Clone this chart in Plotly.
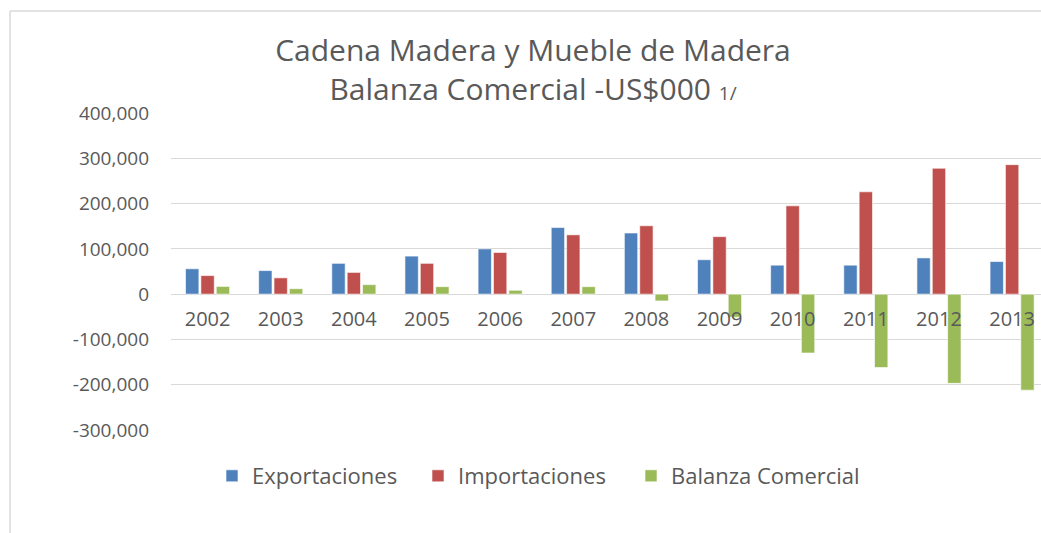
import plotly.graph_objects as go

# datos (US$ miles)
anios = ["2002", "2003", "2004", "2005", "2006", "2007",
         "2008", "2009", "2010", "2011", "2012", "2013"]
exportaciones = [56000, 52000, 68000, 84000, 100000, 147000,
                 135000, 76000, 64000, 64000, 80000, 72000]
importaciones = [41000, 36000, 48000, 68000, 92000, 131000,
                 151000, 127000, 195000, 226000, 278000, 286000]
balanza = [17000, 12000, 21000, 16500, 8500, 16500,
           -15000, -51000, -130000, -162000, -197000, -212000]
y_ticks = [400000, 300000, 200000, 100000, 0, -100000, -200000, -300000]
y_tick_labels = ["400,000", "300,000", "200,000", "100,000", "0",
                 "-100,000", "-200,000", "-300,000"]

W, H = 1041, 533
M_L, M_R, M_T, M_B = 171, 0, 113, 103
TXT = "#595959"
GRID = "#d9d9d9"
FONT = "Open Sans"


def px_x(p):
    return (p - M_L) / (W - M_L - M_R)


def px_y(p):
    return (H - M_B - p) / (H - M_T - M_B)


edge = dict(color="rgba(255,255,255,0.6)", width=1)
fig = go.Figure()
fig.add_trace(go.Bar(x=anios, y=exportaciones, name="Exportaciones",
                     marker=dict(color="#4F81BD", line=edge),
                     legend="legend", showlegend=True))
fig.add_trace(go.Bar(x=anios, y=importaciones, name="Importaciones",
                     marker=dict(color="#C0504D", line=edge),
                     legend="legend2", showlegend=True))
fig.add_trace(go.Bar(x=anios, y=balanza, name="Balanza Comercial",
                     marker=dict(color="#9BBB59", line=edge),
                     legend="legend3", showlegend=True))


def leyenda(x_px):
    return dict(orientation="h", x=px_x(x_px), xanchor="left",
                y=px_y(476), yanchor="middle",
                font=dict(size=22, color=TXT), bgcolor="rgba(0,0,0,0)")


y_min, y_max = -300000, 400000
fig.update_layout(
    width=W, height=H,
    margin=dict(l=M_L, r=M_R, t=M_T, b=M_B),
    paper_bgcolor="white", plot_bgcolor="white",
    font=dict(family=FONT, color=TXT),
    showlegend=True,
    barmode="group", bargap=0.37, bargroupgap=0.13,
    title=dict(
        text="Cadena Madera y Mueble de Madera<br>Balanza Comercial -US$000 <span style='font-size:19px'>1/</span>",
        x=px_x(533), xref="paper", xanchor="center",
        y=1 - 61 / H, yanchor="middle",
        font=dict(size=30, color=TXT),
    ),
    xaxis=dict(
        range=[-0.5, 11.395], anchor="free",
        position=(0 - y_min) / (y_max - y_min),
        showgrid=False, showline=False, ticks="", zeroline=False,
        tickfont=dict(size=20, color=TXT), ticklabelstandoff=11,
    ),
    yaxis=dict(
        range=[y_min, y_max], tickvals=y_ticks, ticktext=y_tick_labels,
        showgrid=True, gridcolor=GRID, gridwidth=1,
        zeroline=True, zerolinecolor=GRID, zerolinewidth=1,
        showline=False, ticks="", ticklabelstandoff=21,
        tickfont=dict(size=19, color=TXT),
    ),
    legend=leyenda(212),
    legend2=leyenda(418),
    legend3=leyenda(631),
    shapes=[
        dict(type="line", xref="paper", yref="paper",
             x0=px_x(10), x1=px_x(10), y0=px_y(11), y1=px_y(H + 5),
             line=dict(color=GRID, width=1.5)),
        dict(type="line", xref="paper", yref="paper",
             x0=px_x(10), x1=px_x(W + 5), y0=px_y(11), y1=px_y(11),
             line=dict(color=GRID, width=1.5)),
    ],
)

# quitar el margen por defecto del body para que el grafico quede en (0,0)
fig.write_html("out.html", config={"displayModeBar": False},
               post_script="document.body.style.margin='0';")
